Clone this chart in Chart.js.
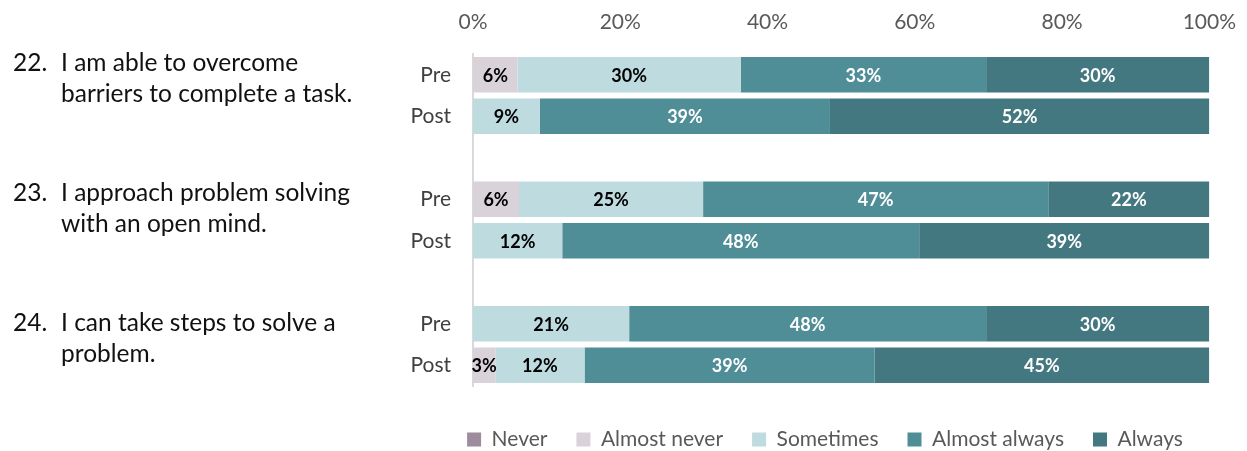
<!DOCTYPE html>
<html>
<head>
<meta charset="utf-8">
<script src="https://cdn.jsdelivr.net/npm/chart.js@4.4.0/dist/chart.umd.min.js"></script>
<style>
  body { margin: 0; background: #fff; }
</style>
</head>
<body>
<canvas id="surveyChart" width="1247" height="451"></canvas>
<script>
// rows (blank rows keep the gap between questions)
const rowLabels = ['Pre', 'Post', '', 'Pre', 'Post', '', 'Pre', 'Post'];
const questions = [
  ['22.', 'I am able to overcome', 'barriers to complete a task.'],
  ['23.', 'I approach problem solving', 'with an open mind.'],
  ['24.', 'I can take steps to solve a', 'problem.']
];
const xTicks = [0, 20, 40, 60, 80, 100];

// percent of respondents
const never        = [0,     0,     null, 0,     0,     null, 0,     0];
const almostNever  = [6.06,  0,     null, 6.25,  0,     null, 0,     3.03];
const sometimes    = [30.30, 9.09,  null, 25.00, 12.12, null, 21.21, 12.12];
const almostAlways = [33.33, 39.39, null, 46.88, 48.48, null, 48.48, 39.39];
const always       = [30.30, 51.52, null, 21.88, 39.39, null, 30.30, 45.45];

const font = 'Lato';
const labelColors = ['#000', '#000', '#000', '#fff', '#fff'];

// value labels inside each segment
const barLabels = {
  id: 'barLabels',
  afterDatasetsDraw(chart) {
    const ctx = chart.ctx;
    ctx.save();
    ctx.font = 'bold 18px ' + font;
    ctx.textAlign = 'center';
    ctx.textBaseline = 'middle';
    chart.data.datasets.forEach((ds, i) => {
      chart.getDatasetMeta(i).data.forEach((bar, j) => {
        const v = ds.data[j];
        if (!v) return;
        ctx.fillStyle = labelColors[i];
        ctx.fillText(Math.round(v) + '%', (bar.x + bar.base) / 2, bar.y + 1);
      });
    });
    ctx.restore();
  }
};

// question text on the left
const questionText = {
  id: 'questionText',
  afterDraw(chart) {
    const ctx = chart.ctx;
    ctx.save();
    ctx.font = '24.5px ' + font;
    ctx.fillStyle = '#111';
    ctx.textBaseline = 'alphabetic';
    questions.forEach((q, k) => {
      const y = chart.chartArea.top + 17 + k * 130;
      ctx.fillText(q[0], 13, y);
      ctx.fillText(q[1], 61, y);
      ctx.fillText(q[2], 61, y + 31);
    });
    ctx.restore();
  }
};

// legend: fixed height, moved under the plot
const legendPlace = {
  id: 'legendPlace',
  beforeInit(chart) {
    const fit = chart.legend.fit;
    chart.legend.fit = function () {
      fit.bind(chart.legend)();
      this.height = 65;
    };
  },
  afterLayout(chart) {
    const lg = chart.legend;
    const dx = 825 - (lg.left + lg.right) / 2;
    lg.top += 14; lg.bottom += 14;
    lg.left += dx; lg.right += dx;
  }
};

const ctx = document.getElementById('surveyChart').getContext('2d');
const surveyChart = new Chart(ctx, {
  type: 'bar',
  data: {
    labels: rowLabels,
    datasets: [
      { label: 'Never',         data: never,        backgroundColor: '#9C8C9E' },
      { label: 'Almost never',  data: almostNever,  backgroundColor: '#D9D3D9' },
      { label: 'Sometimes',     data: sometimes,    backgroundColor: '#BEDBDF' },
      { label: 'Almost always', data: almostAlways, backgroundColor: '#4F8E97' },
      { label: 'Always',        data: always,       backgroundColor: '#437880' }
    ]
  },
  options: {
    indexAxis: 'y',
    responsive: false,
    animation: false,
    barPercentage: 0.86,
    categoryPercentage: 1,
    layout: { padding: { left: 0, right: 36, top: 0, bottom: 0 } },
    scales: {
      x: {
        position: 'top',
        stacked: true,
        min: 0,
        max: 100,
        grid: { display: false },
        border: { display: false },
        afterBuildTicks: s => { s.ticks = xTicks.map(v => ({ value: v })); },
        afterFit: s => { s.height = 54; },
        ticks: {
          padding: 11,
          color: '#595959',
          font: { family: font, size: 21 },
          callback: v => v + '%'
        }
      },
      y: {
        stacked: true,
        grid: { display: false, drawTicks: false },
        border: { color: '#D9D9D9', width: 2 },
        afterFit: s => { s.width = 473; },
        ticks: {
          padding: 22,
          color: '#404040',
          font: { family: font, size: 21 }
        }
      }
    },
    plugins: {
      tooltip: { enabled: false },
      legend: {
        position: 'bottom',
        labels: {
          boxWidth: 14,
          boxHeight: 14,
          padding: 29,
          color: '#595959',
          font: { family: font, size: 21 }
        }
      }
    }
  },
  plugins: [barLabels, questionText, legendPlace]
});
</script>
</body>
</html>
